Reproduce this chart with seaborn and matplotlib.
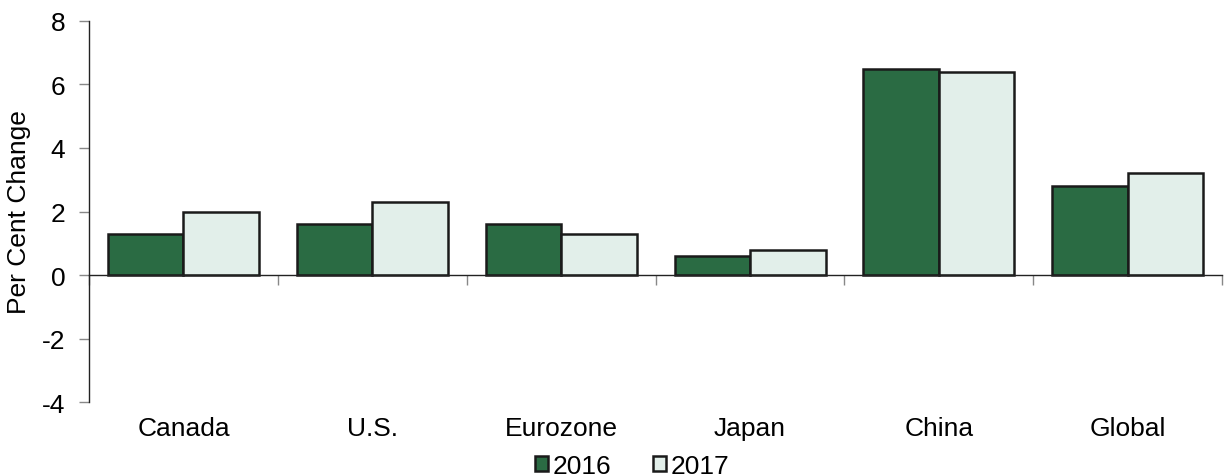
import matplotlib
matplotlib.use("Agg")
import matplotlib.pyplot as plt
import seaborn as sns
import pandas as pd

categories = ["Canada", "U.S.", "Eurozone", "Japan", "China", "Global"]
values_2016 = [1.3, 1.6, 1.6, 0.6, 6.5, 2.8]
values_2017 = [2.0, 2.3, 1.3, 0.8, 6.4, 3.2]
series = ["2016", "2017"]
yticks = [-4, -2, 0, 2, 4, 6, 8]
colors = ["#2A6B43", "#E2EFEA"]

df = pd.DataFrame({
    "Region": categories * 2,
    "Value": values_2016 + values_2017,
    "Year": [series[0]] * len(categories) + [series[1]] * len(categories),
})

sns.set_style("white")
plt.rcParams["font.family"] = ["Liberation Sans", "DejaVu Sans"]
plt.rcParams["axes.unicode_minus"] = False
plt.rcParams["text.color"] = "black"
plt.rcParams["axes.labelcolor"] = "black"
plt.rcParams["xtick.color"] = "black"
plt.rcParams["ytick.color"] = "black"

FS = 19

fig = plt.figure(figsize=(12.25, 4.77), dpi=100)
ax = fig.add_axes([0.0727, 0.155, 0.925, 0.799])

sns.barplot(data=df, x="Region", y="Value", hue="Year", order=categories,
            hue_order=series, palette=colors, saturation=1, width=0.8,
            edgecolor="#1a1a1a", linewidth=1.8, ax=ax)

ax.set_xlim(-0.5, len(categories) - 0.5)
ax.set_ylim(yticks[0], yticks[-1])
ax.set_yticks(yticks)
ax.set_ylabel("Per Cent Change", fontsize=FS, labelpad=8)
ax.set_xlabel("")
ax.tick_params(axis="y", labelsize=FS, direction="out", length=7, width=1,
               color="#888888", labelcolor="black", left=True, pad=10)

for s in ["top", "right"]:
    ax.spines[s].set_visible(False)
ax.spines["left"].set_color("#222222")
ax.spines["left"].set_linewidth(1)
ax.spines["bottom"].set_position(("data", 0))
ax.spines["bottom"].set_color("#222222")
ax.spines["bottom"].set_linewidth(1)

ax.set_xticks([i for i in range(len(categories))])
ax.tick_params(axis="x", which="major", length=0, labelbottom=False)
ax.set_xticks([i - 0.5 for i in range(len(categories) + 1)], minor=True)
ax.tick_params(axis="x", which="minor", direction="out", length=7, width=1,
               color="#888888", bottom=True)

sec = ax.secondary_xaxis("bottom")
sec.set_xticks(list(range(len(categories))), labels=categories)
sec.tick_params(length=0, labelsize=FS, pad=10, labelcolor="black")
sec.spines["bottom"].set_visible(False)

handles, labels = ax.get_legend_handles_labels()
ax.get_legend().remove()
fig.legend(handles, labels, loc="center", bbox_to_anchor=(0.516, 0.022),
           ncol=2, frameon=False, fontsize=FS, handlelength=0.5,
           handleheight=0.5, handletextpad=0.15, columnspacing=1.6,
           borderaxespad=0)

fig.savefig("out.png", dpi=100)
